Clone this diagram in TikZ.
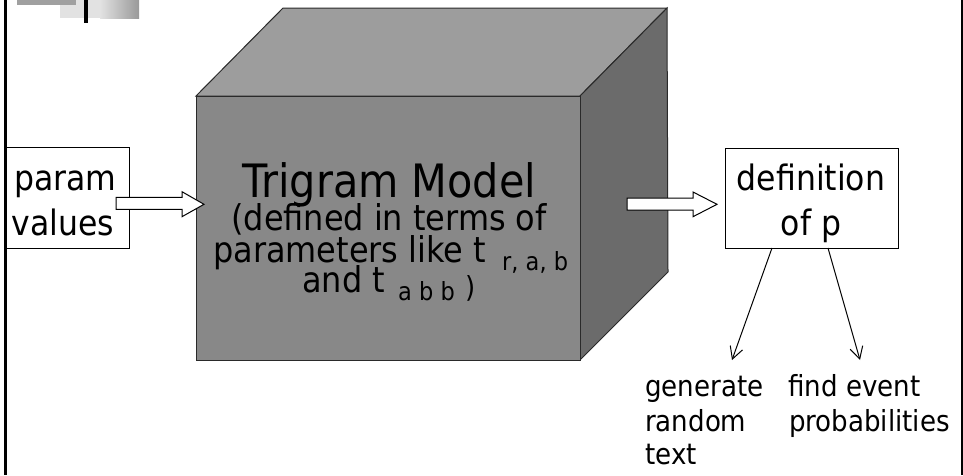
\documentclass[tikz,border=0pt]{standalone}
\usepackage{fontspec}
\setmainfont{DejaVu Sans Condensed}
\usetikzlibrary{arrows.meta}

\definecolor{topface}{HTML}{9D9D9D}
\definecolor{frontface}{HTML}{888888}
\definecolor{sideface}{HTML}{6B6B6B}
\definecolor{cubeedge}{HTML}{2A2A2A}
\definecolor{stripgray}{HTML}{A0A0A0}
\definecolor{stripluce}{HTML}{E2E2E2}
\definecolor{stripdark}{HTML}{999999}

\begin{document}
\begin{tikzpicture}[x=1pt, y=-1pt,
  lbl/.style={inner sep=0pt, text=black},
  huge/.style={font=\fontsize{46}{46}\selectfont},
  big/.style={font=\fontsize{35.5}{35.5}\selectfont},
  boxtxt/.style={font=\fontsize{35}{35}\selectfont},
  subtxt/.style={font=\fontsize{25}{25}\selectfont},
  small/.style={font=\fontsize{29}{29}\selectfont},
  textbox/.style={draw=black, line width=1pt, fill=white, inner sep=0pt},
  hollow/.style={draw=black, line width=1pt, fill=white, line join=miter},
  thin/.style={draw=black, line width=1pt, -{Straight Barb[length=12pt, width=13pt, line width=1pt]}},
  face/.style={draw=cubeedge, line width=1pt, line join=miter}]

\useasboundingbox (0,0) rectangle (963,475);

% corner ornament
\fill[stripluce] (60,0) rectangle (100,18);
\shade[left color=stripluce, right color=stripdark] (100,0) rectangle (139,18);
\fill[stripgray] (17,0) rectangle (76,5);
\fill[black] (84,0) rectangle (88,23);

% frame lines
\draw[black, line width=3pt] (5.5,0) -- (5.5,475);
\draw[black, line width=2pt] (962,0) -- (962,475);

% the cube
\filldraw[face, fill=topface] (196,96) -- (283,8) -- (667,8) -- (580,96) -- cycle;
\filldraw[face, fill=sideface] (580,96) -- (667,8) -- (668,272) -- (580,360) -- cycle;
\filldraw[face, fill=frontface] (196,96) rectangle (580,360);

\node[lbl, huge, anchor=base] (title) at (389.5,197) {Trigram Model};
\node[lbl, big, anchor=base] (l1) at (389,230) {(defined in terms of};
\node[lbl, big, anchor=base west] (l2) at (213,262) {parameters like t};
\node[lbl, subtxt, anchor=base west] (s2) at (502,270) {r, a, b};
\node[lbl, big, anchor=base west] (l3) at (302,292) {and t};
\node[lbl, subtxt, anchor=base west] (s3) at (398,300) {a b b};
\node[lbl, small, anchor=base west] (p3) at (465,297) {)};

% input box
\node[textbox, minimum width=123pt, minimum height=101pt] (param) at (67.5,197.5) {};
\node[lbl, boxtxt, anchor=base] (paramA) at (65.5,190) {param};
\node[lbl, boxtxt, anchor=base] (paramB) at (63,235) {values};

% output box
\node[textbox, minimum width=173pt, minimum height=100pt] (defn) at (811.5,198) {};
\node[lbl, boxtxt, anchor=base] (defnA) at (811,190) {definition};
\node[lbl, boxtxt, anchor=base] (defnB) at (811,235) {of p};

% block arrows
\filldraw[hollow] (116,197.3) -- (182,197.3) -- (182,191.7) -- (204,204.3)
  -- (182,216.7) -- (182,209.3) -- (116,209.3) -- cycle;
\filldraw[hollow] (627,198) -- (693,198) -- (693,192) -- (717,204.3)
  -- (693,216.7) -- (693,210) -- (627,210) -- cycle;

% uses of p
\coordinate (genStart) at (772,248);
\coordinate (genEnd) at (732,360);
\coordinate (findStart) at (828,248);
\coordinate (findEnd) at (860,360);
\draw[thin] (genStart) -- (genEnd);
\draw[thin] (findStart) -- (findEnd);

\node[lbl, small, anchor=base west] (genA) at (645,396) {generate};
\node[lbl, small, anchor=base west] (genB) at (645,431) {random};
\node[lbl, small, anchor=base west] (genC) at (645,464) {text};
\node[lbl, small, anchor=base west] (findA) at (788,396) {find event};
\node[lbl, small, anchor=base west] (findB) at (789,431) {probabilities};

\end{tikzpicture}
\end{document}
